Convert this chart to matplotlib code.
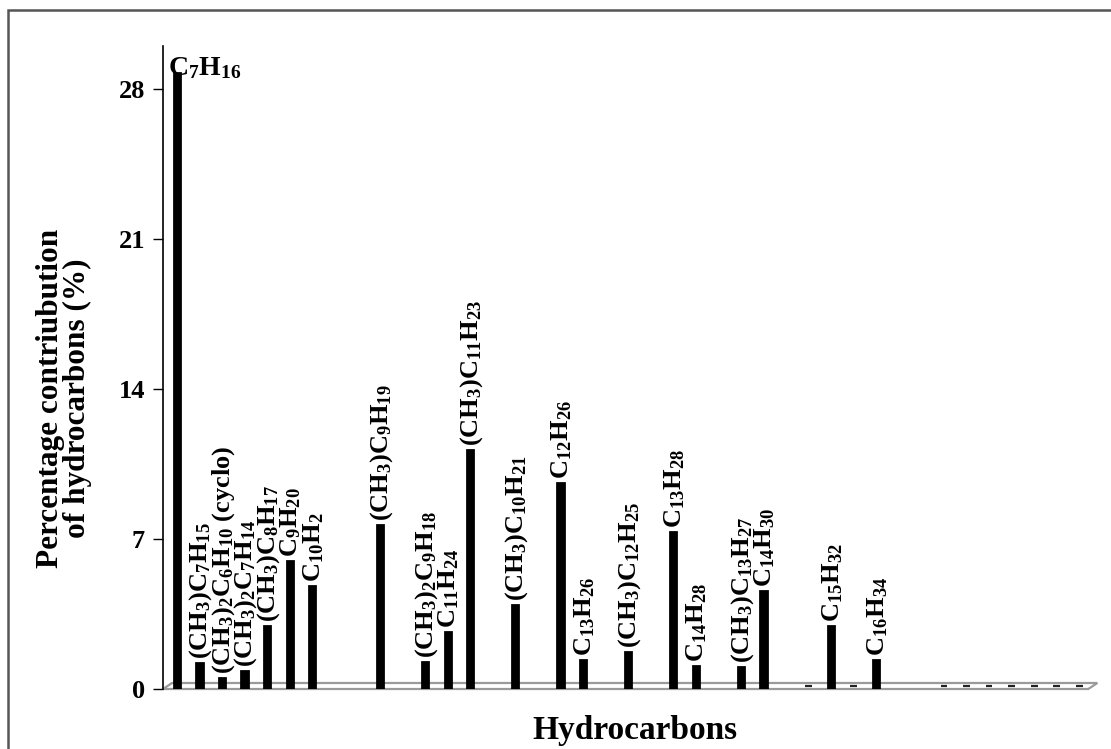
import numpy as np
import matplotlib.pyplot as plt
from matplotlib.patches import Polygon, Rectangle

plt.rcParams['font.family'] = ['Liberation Serif', 'DejaVu Serif']
plt.rcParams['mathtext.fontset'] = 'custom'
plt.rcParams['mathtext.rm'] = 'Liberation Serif:bold'
plt.rcParams['mathtext.bf'] = 'Liberation Serif:bold'
plt.rcParams['mathtext.it'] = 'Liberation Serif:bold'
plt.rcParams['mathtext.default'] = 'bf'

# one slot per category position; None = no bar drawn, 0 = zero dash on floor
values = [28.75, 1.21, 0.51, 0.84, 2.94, 5.96, 4.80, None, None, 7.64,
          None, 1.26, 2.66, 11.14, None, 3.91, None, 9.60, 1.35, None,
          1.72, None, 7.32, 1.07, None, 1.03, 4.57, None, 0, 2.94,
          0, 1.35, None, None, 0, 0, 0, 0, 0, 0, 0]

labels = [r'$C_7H_{16}$', r'$(CH_3)C_7H_{15}$', r'$(CH_3)_2C_6H_{10}$ (cyclo)',
          r'$(CH_3)_2C_7H_{14}$', r'$(CH_3)C_8H_{17}$', r'$C_9H_{20}$', r'$C_{10}H_2$',
          '', '', r'$(CH_3)C_9H_{19}$',
          '', r'$(CH_3)_2C_9H_{18}$', r'$C_{11}H_{24}$', r'$(CH_3)C_{11}H_{23}$', '',
          r'$(CH_3)C_{10}H_{21}$', '', r'$C_{12}H_{26}$', r'$C_{13}H_{26}$', '',
          r'$(CH_3)C_{12}H_{25}$', '', r'$C_{13}H_{28}$', r'$C_{14}H_{28}$', '',
          r'$(CH_3)C_{13}H_{27}$', r'$C_{14}H_{30}$', '', '', r'$C_{15}H_{32}$',
          '', r'$C_{16}H_{34}$', '', '', '', '', '', '', '', '', '']

y_ticks = [0, 7, 14, 21, 28]

fig = plt.figure(figsize=(11.11, 7.49), dpi=100)
ax = fig.add_axes([0.1467, 0.0801, 0.841, 0.8585])

xs = [i for i, v in enumerate(values) if v is not None and v > 0]
vs = [values[i] for i in xs]
zx = [i for i, v in enumerate(values) if v == 0]
zv = [values[i] for i in zx]

# floor of the plot area
floor = Polygon([(-0.62, 0), (40.4, 0), (40.8, 0.28), (-0.22, 0.28)],
                closed=True, facecolor='white', edgecolor='#9a9a9a', lw=1.6,
                zorder=1, clip_on=False)
ax.add_patch(floor)

ax.bar(xs, vs, width=0.28, color='black', edgecolor='black', linewidth=2, zorder=3)
# zero values show as small dashes lying on the floor
ax.bar(zx, zv, bottom=0.14, width=0.3, color='black', edgecolor='#222222',
       linewidth=1.6, zorder=3, clip_on=False)

# labels above bars
for i, v in zip(xs, vs):
    lab = labels[i]
    if not lab:
        continue
    if i == 0:
        ax.text(i - 0.4, v - 0.4, lab, fontsize=20, fontweight='bold',
                ha='left', va='bottom', zorder=4)
    else:
        ax.annotate(lab, (i, v), xytext=(1, 3), textcoords='offset points',
                    rotation=90, ha='center', va='bottom', fontsize=19,
                    fontweight='bold', zorder=4)

ax.set_xlim(-0.62, 40.8)
ax.set_ylim(0, 30)
ax.set_yticks(y_ticks)
ax.set_yticklabels([str(t) for t in y_ticks], fontsize=19, fontweight='bold')
ax.tick_params(axis='y', direction='out', length=7, width=1, pad=6)
ax.set_xticks([])
for s in ['top', 'right', 'bottom']:
    ax.spines[s].set_visible(False)
ax.spines['left'].set_linewidth(1.2)

fig.text(64 / 1111, 1 - 398 / 749,
         'Percentage contriubution\nof hydrocarbons (%)',
         rotation=90, ha='center', va='center', multialignment='center',
         fontsize=22.5, fontweight='bold', linespacing=0.95)
fig.text(635 / 1111, 1 - 730 / 749, 'Hydrocarbons',
         ha='center', va='center', fontsize=24, fontweight='bold')

# outer frame (only top and left edges fall inside the picture)
fig.add_artist(Rectangle((8 / 1111, -0.1), 1.2, 1 - 10 / 749 + 0.1,
                         transform=fig.transFigure, fill=False,
                         edgecolor='#555555', lw=1.8))

fig.savefig('out.png', dpi=100)
